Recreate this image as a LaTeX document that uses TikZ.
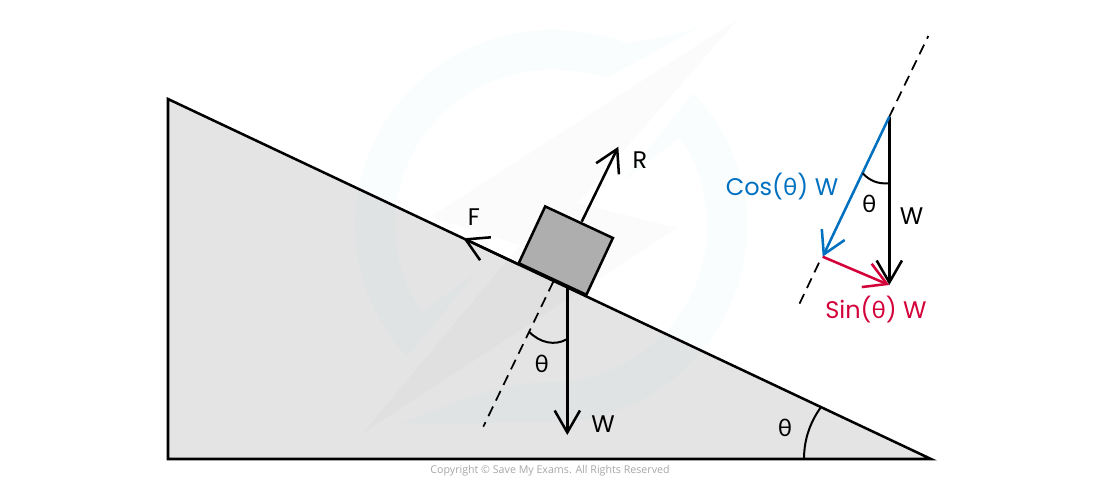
\documentclass[tikz,border=0pt]{standalone}
\usepackage{fontspec}
\setmainfont{Poppins}
\newfontfamily\gk{Lato}
\newfontfamily\copyfont{Open Sans}
\usetikzlibrary{arrows.meta}
\definecolor{wedgegrey}{HTML}{E4E4E4}
\definecolor{blockgrey}{HTML}{AEAEAE}
\definecolor{cosblue}{HTML}{0070C0}
\definecolor{sinred}{HTML}{D4003A}
\definecolor{ringtint}{HTML}{A9DCEB}
\tikzset{
  x=0.75pt,y=-0.75pt,
  ln/.style={line width=1.9pt,line join=miter},
  force/.style={ln,-{Straight Barb[length=16.5pt,width=19pt,line width=1.9pt]}},
  thinline/.style={line width=1.5pt},
  dashline/.style={line width=1.3pt,dash pattern=on 8pt off 5pt},
  lab/.style={font=\fontsize{18}{20}\selectfont,inner sep=0pt},
  ringmark/.style={fill=ringtint,fill opacity=0.055,draw=none},
  boltmark/.style={fill=black,fill opacity=0.016,draw=none},
}
\newcommand{\thet}{{\gk\fontsize{18}{20}\selectfont θ}}
\begin{document}
\begin{tikzpicture}
\useasboundingbox (0,0) rectangle (1100,480);
% wedge fill
\fill[wedgegrey] (168,99) -- (168,459) -- (931,459) -- cycle;
% watermark
\path[ringmark] (700,27) .. controls (670,36) and (650,40) .. (627,43)
  .. controls (600,33) and (575,30) .. (551,30)
  .. controls (443,30) and (355,118) .. (355,226)
  .. controls (355,275) and (375,322) .. (407,357)
  -- (477,272) -- (422,312)
  .. controls (405,288) and (395,258) .. (395,226)
  .. controls (395,140) and (465,70) .. (551,70)
  .. controls (570,70) and (590,73) .. (607,78) -- cycle;
\path[ringmark] (693,93) .. controls (727,128) and (747,175) .. (747,226)
  .. controls (747,334) and (659,422) .. (551,422)
  .. controls (495,422) and (450,425) .. (400,423)
  .. controls (450,405) and (500,382) .. (551,382)
  .. controls (637,382) and (707,312) .. (707,226)
  .. controls (707,192) and (697,162) .. (680,138)
  -- (622,182) -- cycle;
\path[boltmark] (738,19) -- (430,217) -- (520,245) -- (363,433) -- (677,228) -- (578,203) -- cycle;
% coordinates
\coordinate (wtop) at (168,99);
\coordinate (wleft) at (168,459);
\coordinate (wright) at (931,459);
\node[draw=black,fill=blockgrey,line width=1.9pt,rotate=-25,minimum width=56pt,minimum height=47pt,inner sep=0pt] (block) at (565.8,250.6) {};
\coordinate (rstart) at (581.7,221.7);
\coordinate (rend) at (618.3,146.7);
\coordinate (fstart) at (518.3,264.2);
\coordinate (fend) at (463.3,238.3);
\coordinate (wstart) at (567.3,287);
\coordinate (wend) at (567.3,435);
\coordinate (dstart) at (553.3,281.7);
\coordinate (dend) at (483.3,426.7);
% wedge outline
\draw[ln,line join=miter] (wtop) -- (wleft) -- (wright) -- cycle;
% forces
\draw[force] (rstart) -- (rend);
\draw[force] (fstart) -- (fend);
\draw[force] (wstart) -- (wend);
\draw[dashline] (dstart) -- (dend);
\coordinate (a1s) at (529,331.7);
\coordinate (a1e) at (566.7,339.3);
\draw[thinline] (a1s) .. controls (540,343) and (555,346) .. (a1e);
\coordinate (a2s) at (804,459);
\coordinate (a2e) at (821,407);
\draw[thinline] (a2s) .. controls (804,438) and (811,421) .. (a2e);
% labels
\node[lab] (lR) at (640,160.5) {R};
\node[lab] (lF) at (474,217.5) {F};
\node[lab] (lW) at (603,424) {W};
\node[lab] (lt1) at (541.7,364) {\thet};
\node[lab] (lt2) at (785,428) {\thet};
% right triangle
\coordinate (tri) at (889.3,116.7);
\coordinate (trib) at (889.3,285);
\coordinate (tric) at (822.7,256.7);
\coordinate (tup) at (928.3,36);
\coordinate (tlowa) at (819,262.7);
\coordinate (tlowb) at (797.3,308.3);
\draw[dashline] (tri) -- (tup);
\draw[dashline] (tlowa) -- (tlowb);
\draw[force] (tri) -- (trib);
\draw[force,cosblue] (tri) -- (tric);
\draw[force,sinred] (tric) -- (trib);
\coordinate (a3s) at (862.7,173.3);
\coordinate (a3e) at (888.3,183.3);
\draw[thinline] (a3s) .. controls (870,181) and (878,184) .. (a3e);
\node[lab] (lt3) at (869.3,204) {\thet};
\node[lab] (lW2) at (911.7,215.7) {W};
\node[lab,text=cosblue] (lcos) at (782,187) {Cos(\thet) W};
\node[lab,text=sinred] (lsin) at (876,309.5) {Sin(\thet) W};
\node[inner sep=0pt,text=black!35,font=\copyfont\fontsize{8}{10}\selectfont] (copy) at (550,471) {Copyright © Save My Exams. All Rights Reserved};
\end{tikzpicture}
\end{document}
